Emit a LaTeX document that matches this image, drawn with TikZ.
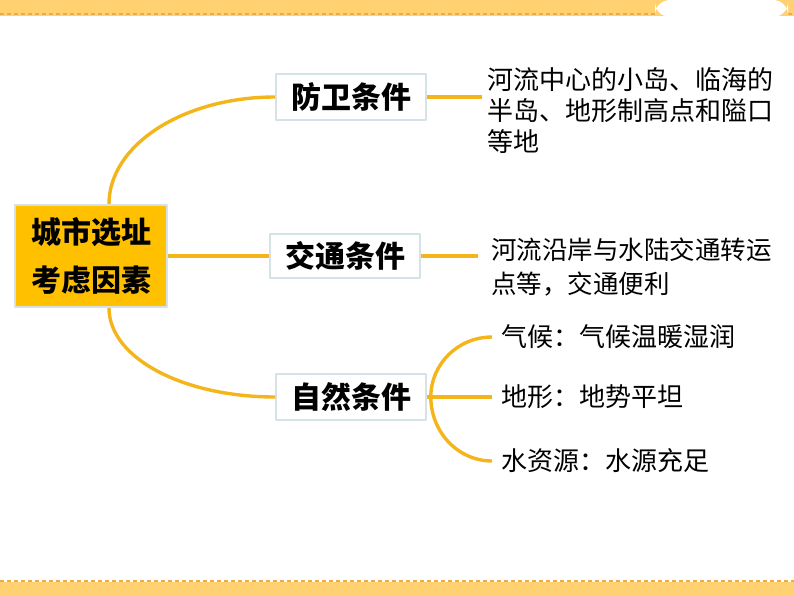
\documentclass[tikz,border=0pt]{standalone}
\usepackage{fontspec}
\usepackage{xcolor}
\usepackage{tikz}
\newfontfamily\cjk{Noto Sans CJK SC}
\definecolor{stripe}{HTML}{FFD171}
\definecolor{stripedot}{HTML}{EFA945}
\definecolor{gold}{HTML}{F4B51A}
\definecolor{hubfill}{HTML}{FFC000}
\definecolor{edge}{HTML}{D5E3E6}

\begin{document}
\begin{tikzpicture}[x=1pt,y=-1pt,line join=round,
  link/.style={gold,line width=3.4pt},
  hub/.style={fill=hubfill,draw=edge,line width=2pt,align=center,inner sep=0pt,
    minimum width=152pt,minimum height=102pt,
    font=\cjk\bfseries\fontsize{30}{48}\selectfont},
  tag/.style={fill=white,draw=edge,line width=1.6pt,inner sep=0pt,
    minimum width=150pt,minimum height=46pt,
    font=\cjk\bfseries\fontsize{30}{36}\selectfont},
  note/.style={anchor=west,align=left,inner ysep=0pt,
    font=\cjk\fontsize{26}{31}\selectfont}]
  \useasboundingbox (0,0) rectangle (794,596);
  % top and bottom bands
  \fill[stripe] (0,0) rectangle (794,16);
  \draw[stripedot,line width=2pt,dash pattern=on 4pt off 3pt] (0,14) -- (655,14);
  \draw[stripedot,line width=2pt,dash pattern=on 4pt off 3pt] (788,14) -- (794,14);
  \fill[white,rounded corners=15pt] (655,17) -- (655,0) -- (788,0) -- (788,17) -- cycle;
  \fill[stripe] (0,582) rectangle (794,596);
  \draw[stripedot,line width=2pt,dash pattern=on 4pt off 3pt] (0,581) -- (794,581);

  % boxes
  \node[hub] (cb) at (91,256) {城市选址\\考虑因素};
  \node[tag] (fw) at (351,97) {防卫条件};
  \node[tag,minimum height=44pt] (jt) at (345,256) {交通条件};
  \node[tag] (zr) at (351,397) {自然条件};

  % texts
  \node[note,inner xsep=5pt] (fwt) at (482,111) {河流中心的小岛、临海的\\半岛、地形制高点和隘口\\等地};
  \node[note,inner xsep=13pt,font=\cjk\fontsize{25.5}{31}\selectfont] (jtt) at (478,267) {河流沿岸与水陆交通转运\\[3pt]点等，交通便利};
  \node[note,inner xsep=9pt] (qh) at (492,337) {气候：气候温暖湿润};
  \node[note,inner xsep=9pt] (dx) at (492,397) {地形：地势平坦};
  \node[note,inner xsep=9pt] (szy) at (492,461) {水资源：水源充足};

  % branches
  \draw[link] ([xshift=18pt]cb.north) .. controls +(0,-59) and +(-92,0) .. (fw.west);
  \draw[link] (cb.east) -- (jt.west);
  \draw[link] ([xshift=18pt]cb.south) .. controls +(0,50) and +(-92,0) .. (zr.west);
  \draw[link] (fw.east) -- (fw.east -| fwt.west);
  \draw[link] (jt.east) -- (jt.east -| jtt.west);
  \draw[link] (zr.east) -- (dx.west);
  \coordinate (br) at ([xshift=4pt]zr.east);
  \draw[link] (qh.west) .. controls +(-34,0) and +(0,-33) .. (br)
    .. controls +(0,35) and +(-34,0) .. (szy.west);
\end{tikzpicture}
\end{document}
